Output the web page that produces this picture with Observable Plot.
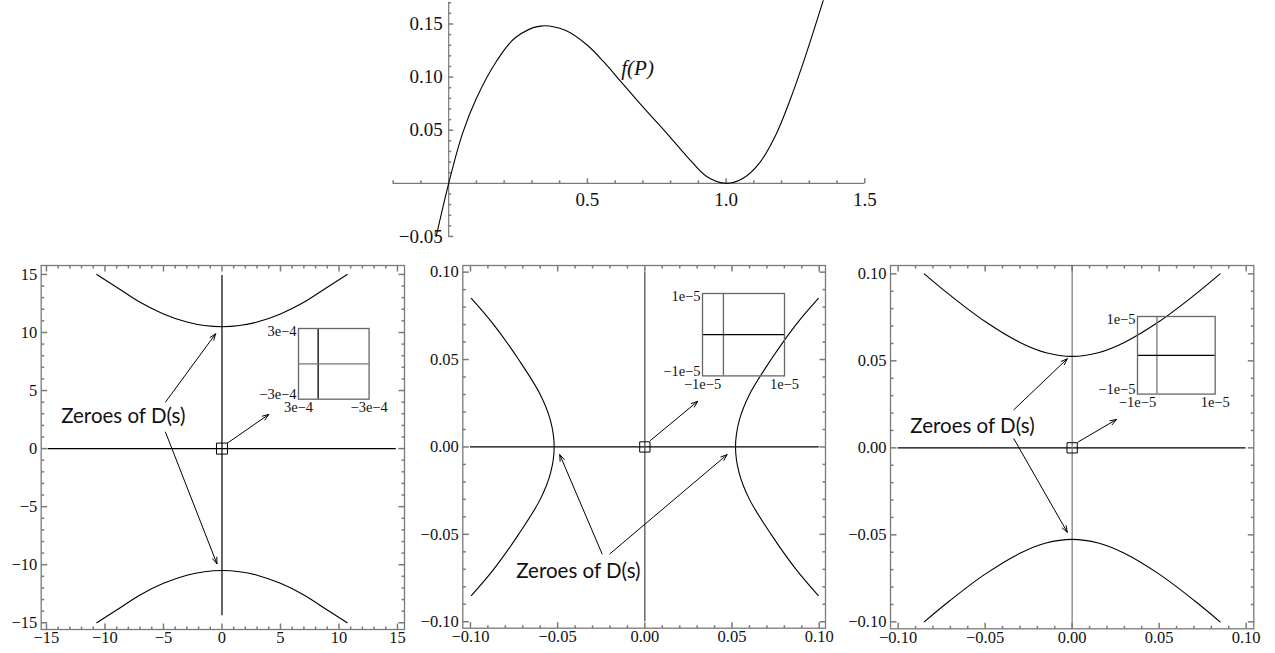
<!DOCTYPE html>
<html><head><meta charset="utf-8">
<script src="https://cdn.jsdelivr.net/npm/d3@7"></script>
<script src="https://cdn.jsdelivr.net/npm/@observablehq/plot@0.6"></script>
<style>
body{margin:0;background:#fff;}
#wrap{position:relative;width:1275px;height:653px;overflow:hidden;background:#fff;}
#wrap > .cell{position:absolute;}
#wrap svg{overflow:visible;}
</style></head><body><div id="wrap"></div>
<script>
// ---------- DATA ----------
// top panel: f(P)
const fP_P = [-0.045, 0, 0.05, 0.1, 0.17, 0.24, 0.33, 0.42, 0.5, 0.56, 0.62, 0.7, 0.78, 0.86, 0.93, 1.0, 1.06, 1.12, 1.18, 1.23, 1.28, 1.35];
const fP_f = [-0.05, 0, 0.047, 0.080, 0.114, 0.137, 0.148, 0.144, 0.130, 0.114, 0.096, 0.072, 0.049, 0.025, 0.0065, 0, 0.0045, 0.019, 0.046, 0.078, 0.115, 0.172];
const topXTicks = [0.5, 1.0, 1.5];
const topYTicks = [-0.05, 0.05, 0.10, 0.15];
const topLabel = "f(P)";

// panel 1: zeroes at ±10.5 i
const p1X = [-10.7, -9, -7, -5, -3, -1.5, 0, 1.5, 3, 5, 7, 9, 10.7];
const p1Upper = [15.0, 13.9, 12.6, 11.6, 10.9, 10.6, 10.5, 10.6, 10.9, 11.6, 12.6, 13.9, 15.0];
const p1Lower = [-15.0, -13.9, -12.6, -11.6, -10.9, -10.6, -10.5, -10.6, -10.9, -11.6, -12.6, -13.9, -15.0];
const p1Ticks = [-15, -10, -5, 0, 5, 10, 15];

// panel 2: zeroes at ±0.052
const p2Y = [-0.085, -0.07, -0.05, -0.03, -0.015, 0, 0.015, 0.03, 0.05, 0.07, 0.085];
const p2Right = [0.0995, 0.0867, 0.0724, 0.0600, 0.0541, 0.0520, 0.0541, 0.0600, 0.0724, 0.0867, 0.0995];
const p2Left = [-0.0995, -0.0867, -0.0724, -0.0600, -0.0541, -0.0520, -0.0541, -0.0600, -0.0724, -0.0867, -0.0995];
const p23Ticks = [-0.10, -0.05, 0.00, 0.05, 0.10];

// panel 3: zeroes at ±0.0526 i
const p3X = [-0.085, -0.07, -0.05, -0.03, -0.015, 0, 0.015, 0.03, 0.05, 0.07, 0.085];
const p3Upper = [0.1000, 0.0876, 0.0726, 0.0606, 0.0547, 0.0526, 0.0547, 0.0606, 0.0726, 0.0876, 0.1000];
const p3Lower = [-0.1000, -0.0876, -0.0726, -0.0606, -0.0547, -0.0526, -0.0547, -0.0606, -0.0726, -0.0876, -0.1000];

const annText = "Zeroes of D(s)";
// annotation arrows [x1,y1,x2,y2]
const p1Arrows = [[-4.83, 4.0, -0.54, 9.89], [-4.83, 1.42, -0.43, -9.92], [0.46, 0.47, 4.0, 2.94]];
const p2Arrows = [[-0.0245, -0.0612, -0.0488, -0.0044], [-0.0201, -0.0612, 0.0472, -0.0044], [0.0032, 0.0037, 0.0303, 0.0261]];
const p3Arrows = [[-0.0335, 0.0219, -0.0028, 0.0512], [-0.0335, 0.0052, -0.0028, -0.0485], [0.0033, 0.0033, 0.0255, 0.0163]];
const p1TextPos = [-8.43, 2.79];
const p2TextPos = [-0.0381, -0.0711];
const p3TextPos = [-0.0573, 0.0124];

// insets
const inset1Labels = ["3e−4", "−3e−4", "3e−4", "−3e−4"];
const inset1XDomain = [3e-4, -3e-4];
const inset1YDomain = [-3e-4, 3e-4];
const inset1Lines = [1.33e-4, 0];
const inset23Labels = ["1e−5", "−1e−5", "−1e−5", "1e−5"];
const inset23Domain = [-1e-5, 1e-5];
const inset2Lines = [-4.9e-6, 0];
const inset3Lines = [-5e-6, 0];

// ---------- HELPERS ----------
const SERIF = "'Liberation Serif', 'Times New Roman', serif";
const SANS = "Lato, 'Open Sans', sans-serif";
const mkTick = (dx, dy) => ({draw(ctx, size) { const l = Math.sqrt(size / Math.PI); ctx.moveTo(0, 0); ctx.lineTo(dx * l, dy * l); }});
const tickUp = mkTick(0, -1), tickDown = mkTick(0, 1), tickRight = mkTick(1, 0), tickLeft = mkTick(-1, 0);
const wrap = document.getElementById("wrap");
function place(el, left, top) {
  const d = document.createElement("div");
  d.className = "cell";
  d.style.left = left + "px"; d.style.top = top + "px";
  d.appendChild(el); wrap.appendChild(d);
}
const pts = (xs, ys) => xs.map((x, i) => ({x, y: ys[i]}));
const minorOf = (lo, hi, step, majors) => d3.range(Math.round(lo / step), Math.round(hi / step) + 1).map(k => +(k * step).toFixed(6)).filter(v => !majors.some(m => Math.abs(m - v) < step / 10));
const baseStyle = {background: "transparent", overflow: "visible", fontFamily: SERIF};

// ---------- TOP PANEL ----------
{
  const axisC = "#7a7a7a";
  const xMinor = minorOf(-0.2, 1.4, 0.1, [0, ...topXTicks]);
  const yMinor = minorOf(-0.04, 0.17, 0.01, [0, ...topYTicks]);
  const plt = Plot.plot({
    width: 560, height: 250,
    marginLeft: 62.7, marginRight: 25.7, marginTop: 1.7, marginBottom: 13,
    x: {domain: [-0.2, 1.5], axis: null},
    y: {domain: [-0.051, 0.1705], axis: null},
    style: baseStyle,
    marks: [
      Plot.ruleY([0], {stroke: axisC, strokeWidth: 1.2}),
      Plot.ruleX([0], {stroke: axisC, strokeWidth: 1.2}),
      Plot.dot(xMinor, {x: d => d, y: () => 0, symbol: tickUp, r: 3, stroke: axisC, fill: "none"}),
      Plot.dot(topXTicks, {x: d => d, y: () => 0, symbol: tickUp, r: 5, stroke: axisC, fill: "none"}),
      Plot.dot(yMinor, {x: () => 0, y: d => d, symbol: tickRight, r: 2.5, stroke: axisC, fill: "none"}),
      Plot.dot(topYTicks, {x: () => 0, y: d => d, symbol: tickRight, r: 4.5, stroke: axisC, fill: "none"}),
      Plot.text(topXTicks, {x: d => d, y: () => 0, text: d => d3.format(".1f")(d), dy: 17, fontSize: 19, fontFamily: SERIF, fill: "#111"}),
      Plot.text(topYTicks, {x: () => 0, y: d => d, text: d => d3.format(".2f")(d), dx: -6, textAnchor: "end", fontSize: 19, fontFamily: SERIF, fill: "#111"}),
      Plot.line(pts(fP_P, fP_f), {x: "x", y: "y", curve: "catmull-rom", stroke: "black", strokeWidth: 1.1}),
      Plot.text([{x: 0.622, y: 0.1087}], {x: "x", y: "y", text: () => topLabel, textAnchor: "start", fontStyle: "italic", fontSize: 21, fontFamily: SERIF, fill: "#111"})
    ]
  });
  place(plt, 330, 0);
}

// ---------- BOTTOM PANELS ----------
function panel(o) {
  const frameC = "#7a7a7a";
  const xMinor = minorOf(o.xTicks[0], o.xTicks[o.xTicks.length - 1], o.minorStep, o.xTicks);
  const yMinor = xMinor;
  const tk = (data, ch, anchor, sym, r) => Plot.dot(data, {[ch]: d => d, frameAnchor: anchor, symbol: sym, r, stroke: frameC, fill: "none"});
  const curveMarks = o.curves.map(c => Plot.line(c, {x: "x", y: "y", curve: "catmull-rom", stroke: "black", strokeWidth: 1.1}));
  const plt = Plot.plot({
    width: o.width, height: 403,
    marginLeft: o.ml, marginRight: o.mr, marginTop: 15, marginBottom: o.mb,
    x: {domain: o.xDomain, axis: null},
    y: {domain: o.yDomain, axis: null},
    style: baseStyle,
    marks: [
      Plot.frame({stroke: frameC, strokeWidth: 1.3}),
      tk(xMinor, "x", "bottom", tickUp, 3), tk(o.xTicks, "x", "bottom", tickUp, 6),
      tk(xMinor, "x", "top", tickDown, 3), tk(o.xTicks, "x", "top", tickDown, 6),
      tk(yMinor, "y", "left", tickRight, 3), tk(o.xTicks, "y", "left", tickRight, 6),
      tk(yMinor, "y", "right", tickLeft, 3), tk(o.xTicks, "y", "right", tickLeft, 6),
      Plot.text(o.xTicks, {x: d => d, frameAnchor: "bottom", lineAnchor: "top", dy: 2, text: o.fmt, fontSize: 16.5, fontFamily: SERIF, fill: "#111"}),
      Plot.text(o.xTicks, {y: d => d, frameAnchor: "left", textAnchor: "end", dx: -4, text: o.fmt, fontSize: 16.5, fontFamily: SERIF, fill: "#111"}),
      Plot.ruleY([o.hRule], {y: "y", x1: "a", x2: "b", stroke: o.hStroke, strokeWidth: 1.2}),
      Plot.ruleX([o.vRule], {x: "x", y1: "a", y2: "b", stroke: o.vStroke, strokeWidth: 1.2}),
      ...curveMarks,
      Plot.dot([0], {x: d => d, y: d => d, symbol: "square", r: o.sq, stroke: "black", fill: "none", strokeWidth: 1}),
      Plot.arrow(o.arrows, {x1: d => d[0], y1: d => d[1], x2: d => d[2], y2: d => d[3], stroke: "black", strokeWidth: 1, headLength: 10, headAngle: 40}),
      Plot.text([o.textPos], {x: d => d[0], y: d => d[1], text: () => annText, fontSize: 20.5, fontFamily: SANS, fill: "#111"})
    ]
  });
  place(plt, o.left, 250);
}

panel({left: 0, width: 420, ml: 40.7, mr: 16, mb: 24,
  xDomain: [-15.45, 15.6], yDomain: [-15.58, 15.77], xTicks: p1Ticks, minorStep: 1,
  fmt: d => d3.format("d")(d),
  curves: [pts(p1X, p1Upper), pts(p1X, p1Lower)],
  hRule: {y: 0, a: -14.85, b: 14.9}, vRule: {x: 0, a: -14.4, b: 14.9},
  hStroke: "black", vStroke: "black", sq: 6.2,
  arrows: p1Arrows, textPos: p1TextPos});

panel({left: 400, width: 440, ml: 62.3, mr: 15, mb: 25.3,
  xDomain: [-0.1044, 0.1036], yDomain: [-0.1037, 0.1038], xTicks: p23Ticks, minorStep: 0.01,
  fmt: d => d3.format(".2f")(d),
  curves: [pts(p2Right, p2Y), pts(p2Left, p2Y)],
  hRule: {y: 0, a: -0.1, b: 0.1}, vRule: {x: 0, a: -0.1, b: 0.1},
  hStroke: "black", vStroke: "#444", sq: 5.8,
  arrows: p2Arrows, textPos: p2TextPos});

panel({left: 820, width: 455, ml: 70, mr: 21.7, mb: 24.7,
  xDomain: [-0.1044, 0.1044], yDomain: [-0.104, 0.1048], xTicks: p23Ticks, minorStep: 0.01,
  fmt: d => d3.format(".2f")(d),
  curves: [pts(p3X, p3Upper), pts(p3X, p3Lower)],
  hRule: {y: 0, a: -0.1, b: 0.1}, vRule: {x: 0, a: -0.104, b: 0.1048},
  hStroke: "black", vStroke: "#777", sq: 5.8,
  arrows: p3Arrows, textPos: p3TextPos});

// ---------- INSETS ----------
function inset(o) {
  const ml = 50, mr = 30, mt = 10, mb = 22;
  const plt = Plot.plot({
    width: o.w + ml + mr, height: o.h + mt + mb,
    marginLeft: ml, marginRight: mr, marginTop: mt, marginBottom: mb,
    x: {domain: o.xDomain, axis: null},
    y: {domain: o.yDomain, axis: null},
    style: baseStyle,
    marks: [
      Plot.ruleX([o.lines[0]], {stroke: o.vStroke, strokeWidth: 1.3}),
      Plot.ruleY([o.lines[1]], {stroke: o.hStroke, strokeWidth: 1.3}),
      Plot.frame({stroke: "#666", strokeWidth: 1.3}),
      Plot.text([o.yDomain[1]], {y: d => d, frameAnchor: "left", textAnchor: "end", dx: -2, dy: 2.5, text: () => o.labels[0], fontSize: 14.5, fontFamily: SERIF, fill: "#111"}),
      Plot.text([o.yDomain[0]], {y: d => d, frameAnchor: "left", textAnchor: "end", dx: -2, dy: -4.5, text: () => o.labels[1], fontSize: 14.5, fontFamily: SERIF, fill: "#111"}),
      Plot.text([o.xDomain[0], o.xDomain[1]], {x: d => d, frameAnchor: "bottom", lineAnchor: "top", dy: 2.5, text: (d, i) => o.labels[i + 2], fontSize: 14.5, fontFamily: SERIF, fill: "#111"})
    ]
  });
  place(plt, o.left - ml, o.top - mt);
}
inset({left: 297.7, top: 328.3, w: 70.6, h: 70.7, xDomain: inset1XDomain, yDomain: inset1YDomain, lines: inset1Lines, vStroke: "black", hStroke: "#777", labels: inset1Labels});
inset({left: 702.3, top: 293.3, w: 82, h: 82.4, xDomain: inset23Domain, yDomain: inset23Domain, lines: inset2Lines, vStroke: "#666", hStroke: "black", labels: inset23Labels});
inset({left: 1137.3, top: 315.7, w: 77.7, h: 77.6, xDomain: inset23Domain, yDomain: inset23Domain, lines: inset3Lines, vStroke: "#777", hStroke: "black", labels: inset23Labels});
</script></body></html>
